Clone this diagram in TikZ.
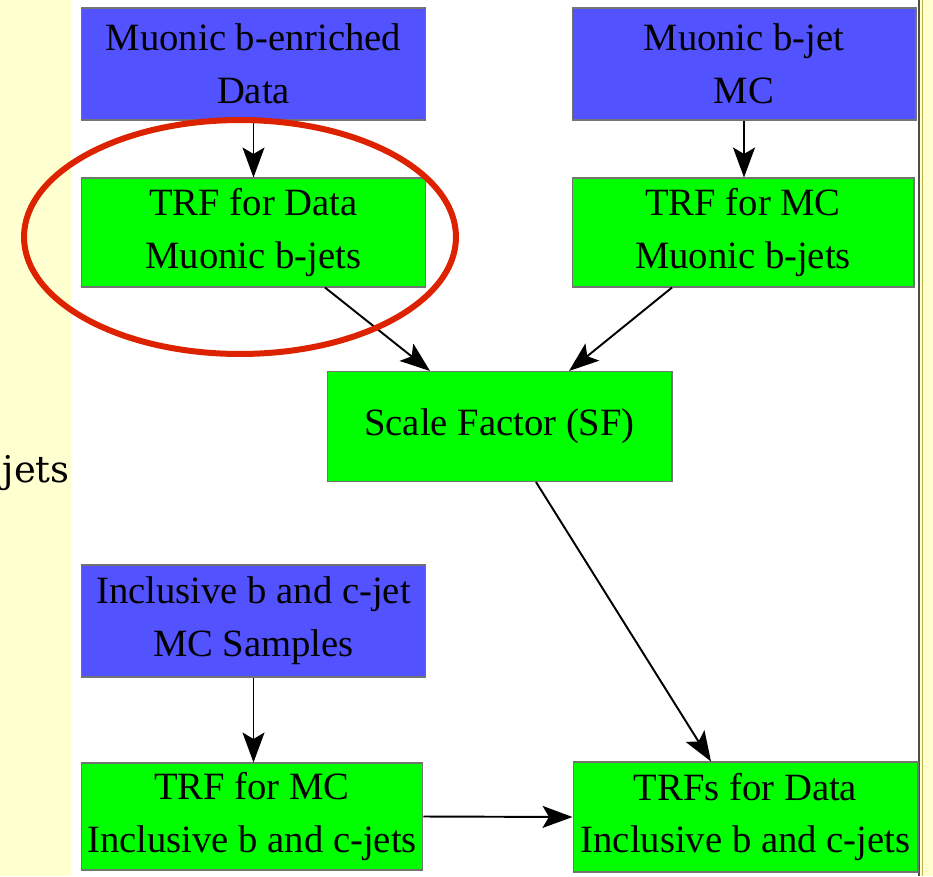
\documentclass[tikz,border=0pt]{standalone}
\usepackage{fontspec}
\setmainfont{LiberationSerif}[Extension=.ttf, UprightFont=*-Regular, BoldFont=*-Bold]
\newfontfamily\slidefont{DejaVuSerif}[Extension=.ttf]
\usetikzlibrary{arrows.meta}
\definecolor{mcblue}{RGB}{82,82,255}
\definecolor{boxgreen}{RGB}{0,255,0}
\definecolor{slideyellow}{RGB}{255,255,208}
\definecolor{ringred}{RGB}{221,34,0}

\begin{document}
\begin{tikzpicture}[x=0.02cm,y=-0.02cm,
    box/.style={draw=black!55, line width=0.6pt, minimum width=6.9cm, minimum height=2.22cm,
        align=center, inner sep=0pt, font=\fontsize{22}{30}\selectfont},
    input/.style={box, fill=mcblue},
    trf/.style={box, fill=boxgreen},
    flow/.style={-{Stealth[length=0.6cm,width=0.44cm,inset=0.13cm]}, line width=1.1pt}]
    \clip (0,0) rectangle (933,876);

    % Slide background and frame
    \fill[slideyellow] (0,0) rectangle (933,876);
    \fill[white] (71,0) rectangle (918,876);
    \draw[black!70, line width=0.05cm] (919,0) -- (919,876);
    \draw[olive!60, line width=0.02cm] (922,0) -- (922,876);

    % Left-over slide text
    \node[anchor=base east, inner sep=0pt, font=\slidefont\fontsize{21}{25}\selectfont] (jets) at (70,482) {jets};

    % Inputs and TRF boxes
    \node[input, minimum height=2.24cm] (data) at (253.5,64) {Muonic b-enriched\\Data};
    \node[input, minimum height=2.24cm, minimum width=6.88cm] (mc) at (744,64) {Muonic b-jet\\MC};
    \node[trf, minimum height=2.18cm] (trfdata) at (253.5,232.5) {TRF for Data\\Muonic b-jets};
    \node[trf, minimum height=2.18cm, minimum width=6.84cm] (trfmc) at (743,232.5) {TRF for MC\\Muonic b-jets};
    \node[trf, minimum height=2.2cm] (sf) at (499.5,426.5) {Scale Factor (SF)};
    \node[input, minimum height=2.24cm] (incl) at (253.5,621) {Inclusive b and c-jet\\MC Samples};
    \node[trf, minimum height=2.14cm, minimum width=6.84cm] (trfincl) at (252,816.5) {TRF for MC\\Inclusive b and c-jets};
    \node[trf, minimum height=2.2cm] (trfout) at (745.5,817) {TRFs for Data\\Inclusive b and c-jets};

    % Arrows
    \draw[flow] (data) -- (trfdata);
    \draw[flow] (mc.south) -- (mc.south |- trfmc.north);
    \draw[flow] ([xshift=1.43cm]trfdata.south) -- ([xshift=-1.39cm]sf.north);
    \draw[flow] ([xshift=-1.42cm]trfmc.south) -- ([xshift=1.39cm]sf.north);
    \draw[flow] ([xshift=0.73cm]sf.south) -- ([xshift=-0.69cm]trfout.north);
    \draw[flow] (incl.south) -- (incl.south |- trfincl.north);
    \draw[flow] (trfincl.east) -- (trfout.west);

    % Highlight ring
    \draw[ringred, line width=0.12cm] (240,237) ellipse [x radius=4.32cm, y radius=2.34cm];
\end{tikzpicture}
\end{document}
